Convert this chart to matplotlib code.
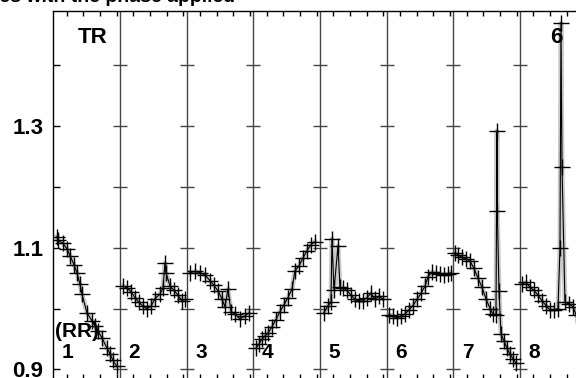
import numpy as np
import matplotlib
matplotlib.use("Agg")
import matplotlib.pyplot as plt

plt.rcParams["font.family"] = ["Liberation Sans", "DejaVu Sans"]
plt.rcParams["font.weight"] = "bold"

# phase within each panel (0..1) and relative flux
phase1 = [0.055, 0.07, 0.145, 0.205, 0.25, 0.31, 0.355, 0.40, 0.43, 0.505, 0.58, 0.625, 0.67, 0.73, 0.805, 0.85, 0.895, 0.955]
flux1 = [1.118, 1.112, 1.107, 1.098, 1.087, 1.072, 1.059, 1.040, 1.024, 0.993, 0.980, 0.972, 0.963, 0.952, 0.935, 0.926, 0.915, 0.905]
phase2 = [0.045, 0.105, 0.165, 0.225, 0.285, 0.345, 0.405, 0.465, 0.525, 0.60, 0.645, 0.675, 0.69, 0.75, 0.81, 0.87, 0.93, 0.975]
flux2 = [1.037, 1.034, 1.028, 1.018, 1.010, 1.004, 1.000, 1.004, 1.016, 1.024, 1.033, 1.075, 1.059, 1.037, 1.030, 1.022, 1.013, 1.015]
phase3 = [0.05, 0.125, 0.2, 0.275, 0.35, 0.41, 0.47, 0.53, 0.575, 0.62, 0.665, 0.725, 0.80, 0.875, 0.935]
flux3 = [1.059, 1.061, 1.059, 1.055, 1.046, 1.038, 1.029, 1.016, 1.003, 1.032, 0.995, 0.991, 0.983, 0.988, 0.993]
phase4 = [0.04, 0.085, 0.13, 0.175, 0.22, 0.28, 0.34, 0.40, 0.46, 0.52, 0.58, 0.625, 0.685, 0.745, 0.805, 0.865, 0.925]
flux4 = [0.935, 0.942, 0.950, 0.955, 0.960, 0.970, 0.982, 0.995, 1.006, 1.018, 1.032, 1.062, 1.070, 1.083, 1.095, 1.105, 1.110]
phase5 = [0.06, 0.12, 0.165, 0.18, 0.21, 0.27, 0.30, 0.345, 0.405, 0.465, 0.525, 0.585, 0.645, 0.705, 0.765, 0.825, 0.885, 0.945]
flux5 = [0.993, 1.005, 1.010, 1.115, 1.030, 1.103, 1.035, 1.034, 1.030, 1.022, 1.015, 1.013, 1.012, 1.018, 1.025, 1.015, 1.020, 1.016]
phase6 = [0.035, 0.095, 0.155, 0.215, 0.275, 0.335, 0.395, 0.455, 0.515, 0.575, 0.62, 0.68, 0.74, 0.80, 0.86, 0.92, 0.965]
flux6 = [0.990, 0.988, 0.985, 0.987, 0.991, 0.998, 1.005, 1.015, 1.025, 1.037, 1.052, 1.060, 1.058, 1.057, 1.055, 1.057, 1.059]
phase7 = [0.025, 0.07, 0.13, 0.19, 0.25, 0.31, 0.37, 0.43, 0.49, 0.55, 0.595, 0.64, 0.655, 0.66, 0.685, 0.715, 0.76, 0.805, 0.85, 0.895, 0.94]
flux7 = [1.092, 1.088, 1.084, 1.082, 1.078, 1.066, 1.050, 1.035, 1.016, 1.000, 0.991, 0.990, 1.292, 1.161, 1.029, 0.958, 0.947, 0.935, 0.925, 0.918, 0.910]
phase8 = [0.03, 0.09, 0.15, 0.21, 0.27, 0.33, 0.39, 0.45, 0.51, 0.57, 0.60, 0.615, 0.63, 0.675, 0.735, 0.795, 0.84]
flux8 = [1.040, 1.043, 1.035, 1.030, 1.022, 1.013, 1.005, 0.998, 0.998, 1.000, 1.100, 1.469, 1.232, 1.010, 1.008, 1.003, 0.990]

phases = [phase1, phase2, phase3, phase4, phase5, phase6, phase7, phase8]
fluxes = [flux1, flux2, flux3, flux4, flux5, flux6, flux7, flux8]
panel_labels = ["1", "2", "3", "4", "5", "6", "7", "8"]
ytick_major = [0.9, 1.1, 1.3]
ytick_minor = [1.0, 1.2, 1.4]

W, H = 576, 378
fig = plt.figure(figsize=(W / 100, H / 100), dpi=100)
left_px, panel_px = 53.3, 66.67
ax = fig.add_axes([left_px / W, -1 / H, 8 * panel_px / W, (H + 1 - 11) / H])
ax.set_xlim(0, 8)
ax.set_ylim(0.8844, 1.4885)

for i in range(8):
    x = np.array(phases[i]) + i
    ax.plot(x, fluxes[i], color="#888888", lw=3.5, alpha=0.45, zorder=2)
    ax.plot(x, fluxes[i], color="black", lw=0.8, marker="+", ms=11, mew=1, zorder=3)
    ax.text(i + 0.13, 0.919, panel_labels[i], fontsize=15, fontweight="bold", ha="left", va="baseline")

# panel dividers with tick crosses
for i in range(1, 8):
    ax.axvline(i, color="#444444", lw=1, zorder=1)
    ax.plot([i] * 6, ytick_major + ytick_minor, ls="none", marker="_", ms=10, mew=1, color="#444444", zorder=1)

ax.text(0.37, 1.436, "TR", fontsize=16, fontweight="bold", va="baseline")
ax.text(0.025, 0.9535, "(RR)", fontsize=15, fontweight="bold", va="baseline")
ax.text(7.45, 1.436, "6", fontsize=16, fontweight="bold", va="baseline", zorder=2)

ax.set_yticks(ytick_major)
ax.set_yticklabels([f"{v:.1f}" for v in ytick_major], fontsize=16, fontweight="bold")
ax.set_yticks(ytick_minor, minor=True)
ax.tick_params(axis="y", which="both", direction="in", length=5, width=1, left=True, right=False, pad=7)
ax.set_xticks(np.arange(0.2, 8, 0.25))
ax.tick_params(axis="x", which="both", direction="in", length=3.6, width=1, top=True, bottom=True,
               labelbottom=False, labeltop=False)
ax.spines["right"].set_visible(False)
ax.spines["bottom"].set_visible(False)
for s in ["left", "top"]:
    ax.spines[s].set_linewidth(1)

fig.text(235 / W, 1 - 2 / H, "Light curves with the phase applied", fontsize=14, fontweight="bold",
         ha="right", va="baseline")

fig.savefig("out.png", dpi=100)
